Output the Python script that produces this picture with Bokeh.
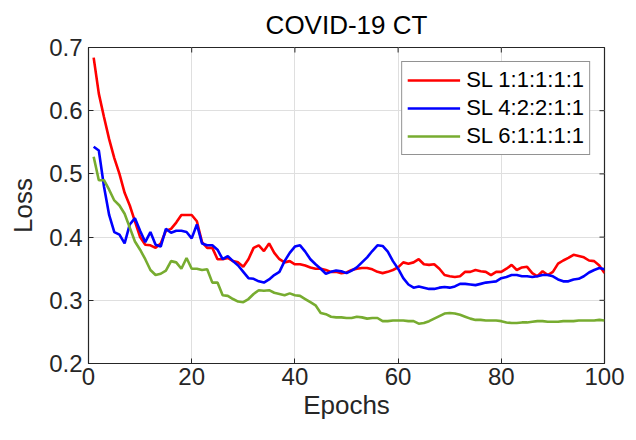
import math
from bokeh.plotting import figure
from bokeh.models import Range1d, FixedTicker, Legend, LegendItem
from bokeh.embed import file_html
from bokeh.resources import INLINE

epochs = list(range(1, 101))
sl_11111 = [0.684, 0.627, 0.59, 0.555, 0.525, 0.50, 0.47, 0.45, 0.425, 0.40,
            0.388, 0.387, 0.383, 0.39, 0.41, 0.413, 0.423, 0.435, 0.435, 0.435,
            0.425, 0.392, 0.383, 0.383, 0.365, 0.365, 0.367, 0.362, 0.36, 0.353,
            0.365, 0.383, 0.387, 0.378, 0.39, 0.375, 0.365, 0.36, 0.362, 0.357,
            0.357, 0.355, 0.352, 0.35, 0.35, 0.348, 0.345, 0.345, 0.343, 0.344,
            0.348, 0.35, 0.351, 0.351, 0.349, 0.345, 0.343, 0.345, 0.348, 0.352,
            0.36, 0.358, 0.36, 0.365, 0.357, 0.356, 0.357, 0.35, 0.34, 0.338,
            0.337, 0.338, 0.345, 0.345, 0.348, 0.346, 0.345, 0.34, 0.345, 0.345,
            0.35, 0.356, 0.348, 0.352, 0.353, 0.343, 0.338, 0.346, 0.34, 0.345,
            0.358, 0.363, 0.367, 0.372, 0.37, 0.368, 0.363, 0.362, 0.355, 0.343]
sl_42211 = [0.543, 0.537, 0.48, 0.435, 0.408, 0.404, 0.39, 0.42, 0.43, 0.41,
            0.392, 0.408, 0.388, 0.385, 0.413, 0.407, 0.41, 0.41, 0.408, 0.398,
            0.42, 0.39, 0.387, 0.387, 0.38, 0.365, 0.37, 0.362, 0.355, 0.345,
            0.335, 0.334, 0.33, 0.328, 0.333, 0.34, 0.345, 0.362, 0.375, 0.385,
            0.387, 0.377, 0.365, 0.357, 0.35, 0.342, 0.345, 0.347, 0.346, 0.343,
            0.347, 0.352, 0.36, 0.368, 0.378, 0.387, 0.386, 0.377, 0.362, 0.35,
            0.335, 0.325, 0.32, 0.322, 0.32, 0.318, 0.318, 0.32, 0.321, 0.32,
            0.322, 0.326, 0.326, 0.325, 0.324, 0.326, 0.328, 0.329, 0.33, 0.335,
            0.337, 0.34, 0.34, 0.338, 0.338, 0.337, 0.338, 0.34, 0.34, 0.338,
            0.333, 0.33, 0.33, 0.333, 0.334, 0.338, 0.344, 0.348, 0.351, 0.349]
sl_61111 = [0.527, 0.49, 0.49, 0.475, 0.458, 0.45, 0.437, 0.415, 0.393, 0.38,
            0.365, 0.348, 0.34, 0.342, 0.347, 0.362, 0.36, 0.35, 0.367, 0.35,
            0.35, 0.348, 0.349, 0.328, 0.328, 0.308, 0.307, 0.302, 0.298, 0.297,
            0.302, 0.31, 0.316, 0.315, 0.316, 0.312, 0.31, 0.308, 0.311, 0.308,
            0.307, 0.302, 0.297, 0.292, 0.28, 0.278, 0.274, 0.273, 0.273, 0.272,
            0.272, 0.274, 0.273, 0.271, 0.272, 0.272, 0.267, 0.267, 0.268, 0.268,
            0.268, 0.267, 0.267, 0.263, 0.264, 0.267, 0.271, 0.275, 0.279, 0.28,
            0.279, 0.277, 0.274, 0.271, 0.269, 0.269, 0.268, 0.268, 0.268, 0.267,
            0.265, 0.264, 0.264, 0.265, 0.265, 0.266, 0.267, 0.267, 0.266, 0.266,
            0.266, 0.267, 0.267, 0.267, 0.268, 0.268, 0.268, 0.268, 0.269, 0.268]
series_names = ["SL 1:1:1:1:1", "SL 4:2:2:1:1", "SL 6:1:1:1:1"]
series_colors = ["#FF0000", "#0000FF", "#77AC30"]
x_ticks = [0, 20, 40, 60, 80, 100]
y_ticks = [0.2, 0.3, 0.4, 0.5, 0.6, 0.7]
x_lo, x_hi = 0, 100
y_lo, y_hi = 0.2, 0.7

FONT = "Liberation Sans"
AXC = "#262626"

p = figure(width=636, height=440, output_backend="svg", toolbar_location=None,
           x_range=Range1d(x_lo, x_hi), y_range=Range1d(y_lo, y_hi),
           min_border_left=88, min_border_right=32, min_border_top=43,
           min_border_bottom=77, title="COVID-19 CT")
p.title.align = "center"
p.title.text_font = FONT
p.title.text_font_size = "26px"
p.title.text_font_style = "normal"
p.title.text_color = "#000000"
p.title.offset = 0
p.title.standoff = 15

p.outline_line_color = AXC
p.outline_line_width = 1.2
p.background_fill_color = "white"
p.border_fill_color = "white"

for ax in (p.xaxis[0], p.yaxis[0]):
    ax.major_tick_in = 5
    ax.major_tick_out = 0
    ax.minor_tick_in = 0
    ax.minor_tick_out = 0
    ax.axis_line_color = AXC
    ax.major_tick_line_color = AXC
    ax.major_label_text_font = FONT
    ax.major_label_text_font_size = "24px"
    ax.major_label_text_color = AXC
    ax.axis_label_text_font = FONT
    ax.axis_label_text_font_size = "26px"
    ax.axis_label_text_font_style = "normal"
    ax.axis_label_text_color = AXC

p.xaxis.ticker = FixedTicker(ticks=x_ticks)
p.yaxis.ticker = FixedTicker(ticks=y_ticks)
p.xaxis.axis_label = "Epochs"
p.yaxis.axis_label = "Loss"
p.xaxis.major_label_standoff = 4
p.yaxis.major_label_standoff = 6
p.xaxis.axis_label_standoff = 2
p.yaxis.axis_label_standoff = 8

# box ticks on the top and right edges (MATLAB "box on")
p.ray(x=[x_hi] * len(y_ticks), y=y_ticks, length=5, length_units="screen",
      angle=math.pi, line_color=AXC, line_width=1)
p.ray(x=x_ticks, y=[y_hi] * len(x_ticks), length=5, length_units="screen",
      angle=-math.pi / 2, line_color=AXC, line_width=1)

p.xgrid.grid_line_color = "#DFDFDF"
p.ygrid.grid_line_color = "#DFDFDF"
p.xgrid.grid_line_width = 1
p.ygrid.grid_line_width = 1

items = []
for name, ys, col in zip(series_names, [sl_11111, sl_42211, sl_61111], series_colors):
    r = p.line(epochs, ys, line_color=col, line_width=2.6)
    items.append(LegendItem(label=name, renderers=[r]))

legend = Legend(items=items, location="top_right")
legend.label_text_font = FONT
legend.label_text_font_size = "22px"
legend.label_text_color = "#000000"
legend.glyph_width = 53
legend.glyph_height = 26
legend.label_height = 26
legend.spacing = 2
legend.padding = 5
legend.margin = 14
legend.label_standoff = 6
legend.border_line_color = AXC
legend.border_line_width = 1
legend.background_fill_alpha = 1
p.add_layout(legend)

open("out.html", "w").write(file_html(p, INLINE))
